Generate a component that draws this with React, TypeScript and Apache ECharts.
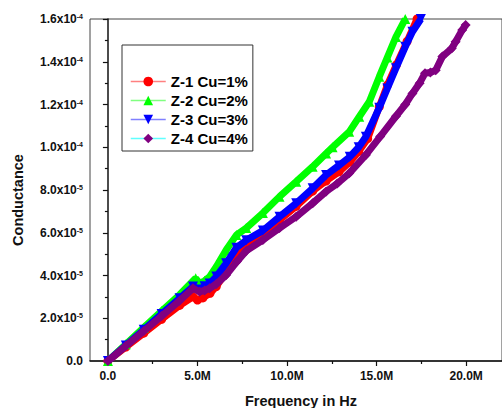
import React, { useEffect, useRef } from "react";
import * as echarts from "echarts";

// Frequency in MHz (axis labelled with "M"), conductance in units of 1e-5 S
const freqZ1 = [0, 1, 2, 3, 4, 4.75, 5.0, 5.3, 5.7, 6.05, 6.6, 7.0, 7.7, 8.65, 9.58, 10.5, 11.43, 12.18, 12.9, 13.5, 14.0, 14.5, 15.15, 15.6, 16.1, 16.7, 17.26];
const condZ1 = [0, 0.65, 1.3, 1.95, 2.6, 3.0, 2.85, 2.95, 3.17, 3.48, 4.15, 4.75, 5.3, 5.9, 6.6, 7.23, 7.95, 8.42, 8.85, 9.3, 9.8, 10.4, 11.9, 12.9, 13.85, 14.95, 16.0];

const freqZ2 = [0, 1, 2, 3, 4, 4.9, 5.12, 5.4, 5.68, 6.05, 6.6, 7.17, 7.72, 8.65, 9.58, 10.51, 11.43, 12.18, 12.54, 13.47, 14.03, 14.59, 15.15, 15.6, 16.08, 16.6];
const condZ2 = [0, 0.78, 1.56, 2.34, 3.1, 3.87, 3.63, 3.75, 3.94, 4.41, 5.19, 5.89, 6.22, 6.92, 7.69, 8.39, 9.09, 9.71, 10.0, 10.72, 11.43, 12.13, 13.3, 14.2, 15.16, 16.0];

const freqZ3 = [0, 1, 2, 3, 4, 4.75, 5.1, 5.4, 5.68, 6.05, 6.6, 7.17, 7.72, 8.65, 9.58, 10.51, 11.43, 12.18, 12.9, 13.5, 14.0, 14.4, 15.15, 15.6, 16.08, 16.6, 17.0, 17.47];
const condZ3 = [0, 0.73, 1.46, 2.2, 2.93, 3.48, 3.35, 3.5, 3.63, 3.95, 4.57, 5.3, 5.65, 6.1, 6.75, 7.38, 8.08, 8.7, 9.15, 9.55, 10.0, 10.49, 11.85, 12.75, 13.7, 14.7, 15.4, 16.0];

const freqZ4 = [0, 1, 2, 3, 4, 4.75, 5.12, 5.4, 5.68, 6.05, 6.6, 7.2, 7.72, 8.65, 9.58, 10.51, 11.43, 12.18, 12.8, 13.47, 14.4, 15.2, 16.08, 16.6, 17.0, 17.4, 17.7, 18.0, 18.3, 18.67, 19.2, 19.41, 19.78, 19.97];
const condZ4 = [0, 0.7, 1.4, 2.1, 2.82, 3.4, 3.24, 3.3, 3.4, 3.6, 4.02, 4.65, 5.15, 5.66, 6.22, 6.75, 7.38, 7.93, 8.3, 8.78, 9.64, 10.5, 11.45, 12.0, 12.52, 13.0, 13.46, 13.5, 13.6, 14.24, 14.63, 14.94, 15.48, 15.72];

const seriesNames = ["Z-1 Cu=1%", "Z-2 Cu=2%", "Z-3 Cu=3%", "Z-4 Cu=4%"];

const xTickValues = [0, 5, 10, 15, 20];
const xTickLabels = ["0.0", "5.0M", "10.0M", "15.0M", "20.0M"];
const xMinorTickValues = [2.5, 7.5, 12.5, 17.5];

const yTickMantissa = ["0.0", "2.0", "4.0", "6.0", "8.0", "1.0", "1.2", "1.4", "1.6"];
const yTickExponent = ["", "-5", "-5", "-5", "-5", "-4", "-4", "-4", "-4"];

const FONT = "'Liberation Sans', Arial, Helvetica, sans-serif";

const zip = (xs: number[], ys: number[]) => xs.map((x, i) => [x, ys[i]]);

export default function App() {
  const ref = useRef<HTMLDivElement>(null);

  useEffect(() => {
    if (!ref.current) return;
    const chart = echarts.init(ref.current, undefined, { renderer: "svg" });

    const styles = [
      { color: "#ff0000", legendLine: "#ff8080", symbol: "circle", rotate: 0, size: 9 },
      { color: "#00ff00", legendLine: "#80ff80", symbol: "triangle", rotate: 0, size: 10 },
      { color: "#0000ff", legendLine: "#8080ff", symbol: "triangle", rotate: 180, size: 10 },
      { color: "#800080", legendLine: "#60ffff", symbol: "diamond", rotate: 0, size: 10 },
    ];
    const datasets = [
      zip(freqZ1, condZ1),
      zip(freqZ2, condZ2),
      zip(freqZ3, condZ3),
      zip(freqZ4, condZ4),
    ];

    const option: any = {
      animation: false,
      backgroundColor: "#ffffff",
      textStyle: { fontFamily: FONT },
      grid: {
        left: 90,
        top: 19,
        right: -1,
        bottom: 47,
        show: true,
        borderColor: "#444",
        borderWidth: 1,
        backgroundColor: "transparent",
      },
      legend: {
        orient: "vertical",
        left: 122,
        top: 45,
        padding: [29, 5, 5, 8],
        itemGap: 4,
        itemWidth: 35,
        itemHeight: 12,
        borderColor: "#333",
        borderWidth: 1,
        backgroundColor: "#ffffff",
        textStyle: { fontSize: 15, fontWeight: "bold", color: "#000", fontFamily: FONT },
        data: seriesNames.map((n, i) => ({
          name: n,
          lineStyle: { color: styles[i].legendLine, width: 1.5 },
          itemStyle: { color: styles[i].color },
        })),
      },
      xAxis: [
        {
          type: "value",
          min: -1,
          max: 22,
          axisLine: { show: true, lineStyle: { color: "#111", width: 1.5 } },
          axisTick: { show: true, length: 5, lineStyle: { color: "#111", width: 1.2 }, customValues: xTickValues },
          axisLabel: {
            customValues: xTickValues,
            margin: 9,
            fontSize: 12,
            fontWeight: "bold",
            color: "#111",
            fontFamily: FONT,
            formatter: (v: number) => {
              const idx = xTickValues.findIndex((t) => Math.abs(t - v) < 1e-6);
              return idx >= 0 ? xTickLabels[idx] : "";
            },
          },
          splitLine: { show: false },
        },
        {
          type: "value",
          min: -1,
          max: 22,
          position: "bottom",
          axisLine: { show: false },
          axisTick: { show: true, length: 3, lineStyle: { color: "#111", width: 1.2 }, customValues: xMinorTickValues },
          axisLabel: { show: false, customValues: xMinorTickValues },
          splitLine: { show: false },
        },
      ],
      yAxis: {
        type: "value",
        min: 0,
        max: 16,
        interval: 2,
        axisLine: { show: true, lineStyle: { color: "#111", width: 1.5 } },
        axisTick: { show: true, length: 5, lineStyle: { color: "#111", width: 1.2 } },
        minorTick: { show: true, splitNumber: 2, length: 3, lineStyle: { color: "#111", width: 1.2 } },
        splitLine: { show: false },
        axisLabel: {
          margin: 7,
          color: "#111",
          formatter: (v: number) => {
            const idx = Math.round(v / 2);
            const m = yTickMantissa[idx];
            const e = yTickExponent[idx];
            if (m === undefined) return "";
            return e ? `{m|${m}x10}{s|${e}}` : `{m|${m}}`;
          },
          rich: {
            m: { fontSize: 12, fontWeight: "bold", color: "#111", fontFamily: FONT },
            s: { fontSize: 7, fontWeight: "bold", color: "#111", fontFamily: FONT, verticalAlign: "top" },
          },
        },
      },
      series: datasets.map((d, i) => ({
        name: seriesNames[i],
        type: "line",
        xAxisIndex: 0,
        data: d,
        symbol: styles[i].symbol,
        symbolRotate: styles[i].rotate,
        symbolSize: styles[i].size,
        showSymbol: true,
        showAllSymbol: true,
        lineStyle: { color: styles[i].color, width: 7 },
        itemStyle: { color: styles[i].color },
        emphasis: { disabled: true },
        z: 2 + i,
        clip: true,
      })),
      graphic: [
        {
          type: "text",
          x: 18,
          y: 200,
          rotation: Math.PI / 2,
          style: {
            text: "Conductance",
            font: `bold 14.5px ${FONT}`,
            fill: "#111",
            textAlign: "center",
            textVerticalAlign: "middle",
          },
        },
        {
          type: "text",
          x: 301,
          y: 401,
          style: {
            text: "Frequency in Hz",
            font: `bold 14.5px ${FONT}`,
            fill: "#111",
            textAlign: "center",
            textVerticalAlign: "middle",
          },
        },
      ],
    };

    chart.setOption(option);
    return () => chart.dispose();
  }, []);

  return (
    <div
      ref={ref}
      style={{ position: "fixed", left: 0, top: 0, width: 502, height: 408, background: "#fff" }}
    />
  );
}
